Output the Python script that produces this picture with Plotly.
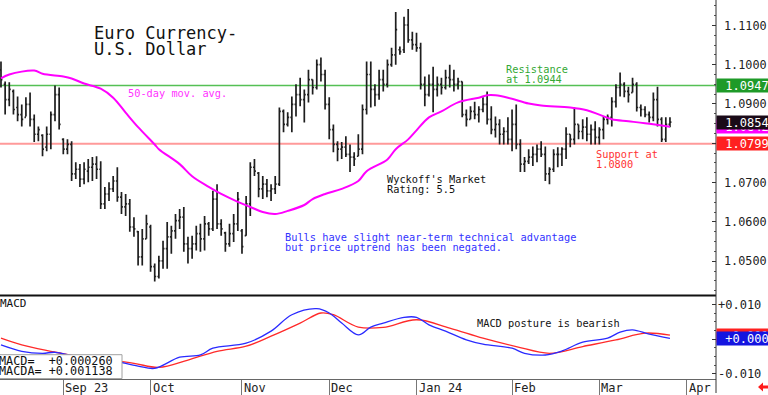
import pandas as pd
import plotly.graph_objects as go

# ---------------- data ----------------
days = [d for d in pd.bdate_range("2023-08-11", "2024-04-05") if d != pd.Timestamp("2023-11-23")]

high = [1.1008,1.0957,1.0955,1.0937,1.0919,1.0899,1.0917,1.0929,1.0873,1.0843,
        1.0823,1.0843,1.0881,1.0947,1.0942,1.0813,1.0810,1.0805,1.0752,1.0747,
        1.0752,1.0760,1.0765,1.0767,1.0754,1.0689,1.0701,1.0717,1.0739,1.0676,
        1.0671,1.0658,1.0612,1.0577,1.0582,1.0618,1.0593,1.0494,1.0514,1.0552,
        1.0600,1.0590,1.0620,1.0633,1.0638,1.0562,1.0565,1.0590,1.0595,1.0615,
        1.0600,1.0679,1.0696,1.0607,1.0575,1.0595,1.0620,1.0676,1.0582,1.0666,
        1.0752,1.0760,1.0727,1.0717,1.0709,1.0696,1.0717,1.0891,1.0886,1.0879,
        1.0919,1.0950,1.0967,1.0937,1.0987,1.0962,1.1013,1.1018,1.0987,1.0917,
        1.0848,1.0805,1.0803,1.0818,1.0797,1.0777,1.0823,1.0899,1.1008,1.1008,
        1.0950,1.0987,1.0987,1.1013,1.1043,1.1134,1.1046,1.1122,1.1142,1.1084,
        1.1081,1.1056,1.0970,1.0975,1.0995,1.0970,1.0967,1.0987,1.1000,1.0987,
        1.0967,1.0957,1.0886,1.0894,1.0906,1.0894,1.0917,1.0932,1.0894,1.0868,
        1.0861,1.0841,1.0866,1.0886,1.0899,1.0810,1.0765,1.0785,1.0792,1.0797,
        1.0805,1.0792,1.0739,1.0785,1.0790,1.0790,1.0841,1.0823,1.0891,1.0848,
        1.0861,1.0866,1.0848,1.0856,1.0841,1.0868,1.0873,1.0917,1.0950,1.0980,
        1.0955,1.0944,1.0967,1.0955,1.0899,1.0894,1.0881,1.0929,1.0944,1.0866,
        1.0866,1.0866]
low = [1.0942,1.0873,1.0894,1.0873,1.0856,1.0843,1.0868,1.0843,1.0803,1.0805,
       1.0767,1.0780,1.0785,1.0856,1.0835,1.0772,1.0772,1.0704,1.0709,1.0689,
       1.0696,1.0701,1.0704,1.0709,1.0633,1.0633,1.0653,1.0676,1.0651,1.0620,
       1.0615,1.0575,1.0562,1.0489,1.0489,1.0557,1.0473,1.0448,1.0456,1.0481,
       1.0481,1.0519,1.0557,1.0582,1.0524,1.0494,1.0506,1.0527,1.0524,1.0527,
       1.0565,1.0577,1.0582,1.0565,1.0524,1.0537,1.0549,1.0577,1.0519,1.0565,
       1.0615,1.0717,1.0663,1.0658,1.0663,1.0653,1.0671,1.0691,1.0828,1.0843,
       1.0828,1.0868,1.0894,1.0853,1.0904,1.0924,1.0937,1.0957,1.0886,1.0810,
       1.0777,1.0754,1.0760,1.0765,1.0727,1.0742,1.0767,1.0772,1.0873,1.0891,
       1.0894,1.0911,1.0932,1.0942,1.0995,1.1000,1.1025,1.1030,1.1056,1.1038,
       1.1033,1.0937,1.0894,1.0919,1.0879,1.0919,1.0924,1.0937,1.0942,1.0932,
       1.0937,1.0866,1.0843,1.0861,1.0861,1.0853,1.0879,1.0848,1.0823,1.0815,
       1.0797,1.0797,1.0797,1.0780,1.0785,1.0727,1.0727,1.0747,1.0742,1.0752,
       1.0765,1.0704,1.0696,1.0727,1.0739,1.0742,1.0760,1.0790,1.0797,1.0810,
       1.0810,1.0805,1.0797,1.0797,1.0797,1.0810,1.0848,1.0843,1.0891,1.0919,
       1.0917,1.0904,1.0929,1.0881,1.0868,1.0866,1.0853,1.0856,1.0843,1.0803,
       1.0803,1.0841]
open_ = [1.0987,1.0950,1.0911,1.0932,1.0891,1.0873,1.0866,1.0899,1.0861,1.0823,
         1.0820,1.0790,1.0823,1.0873,1.0924,1.0810,1.0785,1.0797,1.0722,1.0734,
         1.0709,1.0729,1.0739,1.0747,1.0734,1.0646,1.0671,1.0684,1.0704,1.0663,
         1.0638,1.0646,1.0587,1.0575,1.0511,1.0557,1.0587,1.0486,1.0461,1.0501,
         1.0532,1.0562,1.0577,1.0603,1.0612,1.0544,1.0532,1.0544,1.0570,1.0557,
         1.0595,1.0582,1.0658,1.0595,1.0572,1.0544,1.0570,1.0595,1.0577,1.0565,
         1.0646,1.0739,1.0724,1.0684,1.0696,1.0679,1.0684,1.0696,1.0881,1.0848,
         1.0866,1.0899,1.0924,1.0911,1.0924,1.0962,1.0942,1.1000,1.0975,1.0899,
         1.0835,1.0797,1.0785,1.0790,1.0772,1.0765,1.0767,1.0785,1.0886,1.0975,
         1.0937,1.0924,1.0962,1.0950,1.1000,1.1025,1.1038,1.1038,1.1101,1.1063,
         1.1051,1.1043,1.0950,1.0924,1.0950,1.0937,1.0950,1.0942,1.0967,1.0962,
         1.0950,1.0957,1.0873,1.0861,1.0881,1.0873,1.0886,1.0899,1.0861,1.0835,
         1.0848,1.0823,1.0830,1.0810,1.0848,1.0797,1.0747,1.0754,1.0765,1.0772,
         1.0785,1.0772,1.0722,1.0734,1.0772,1.0772,1.0785,1.0823,1.0810,1.0848,
         1.0830,1.0841,1.0823,1.0835,1.0815,1.0835,1.0861,1.0866,1.0906,1.0942,
         1.0950,1.0932,1.0929,1.0950,1.0891,1.0886,1.0873,1.0866,1.0911,1.0861,
         1.0810,1.0848]
close = [1.0962,1.0911,1.0937,1.0886,1.0873,1.0861,1.0899,1.0861,1.0823,1.0835,
         1.0785,1.0823,1.0873,1.0924,1.0848,1.0785,1.0797,1.0722,1.0734,1.0709,
         1.0734,1.0739,1.0747,1.0734,1.0646,1.0671,1.0684,1.0704,1.0663,1.0638,
         1.0646,1.0587,1.0582,1.0511,1.0557,1.0595,1.0486,1.0461,1.0501,1.0532,
         1.0562,1.0577,1.0603,1.0612,1.0544,1.0532,1.0544,1.0570,1.0557,1.0595,
         1.0582,1.0658,1.0595,1.0582,1.0544,1.0570,1.0595,1.0658,1.0537,1.0646,
         1.0739,1.0729,1.0684,1.0696,1.0679,1.0684,1.0696,1.0881,1.0848,1.0866,
         1.0899,1.0924,1.0911,1.0924,1.0962,1.0942,1.1000,1.0975,1.0899,1.0835,
         1.0797,1.0785,1.0790,1.0772,1.0765,1.0760,1.0785,1.0886,1.0975,1.0937,
         1.0924,1.0962,1.0950,1.1000,1.1025,1.1089,1.1033,1.1101,1.1063,1.1051,
         1.1043,1.0950,1.0924,1.0950,1.0937,1.0950,1.0942,1.0967,1.0962,1.0950,
         1.0957,1.0873,1.0861,1.0881,1.0873,1.0886,1.0899,1.0861,1.0835,1.0848,
         1.0823,1.0830,1.0810,1.0848,1.0797,1.0747,1.0754,1.0765,1.0772,1.0785,
         1.0772,1.0722,1.0734,1.0772,1.0772,1.0785,1.0823,1.0810,1.0848,1.0830,
         1.0841,1.0823,1.0835,1.0815,1.0835,1.0861,1.0866,1.0906,1.0942,1.0950,
         1.0932,1.0924,1.0950,1.0891,1.0886,1.0873,1.0866,1.0911,1.0861,1.0810,
         1.0848,1.0854]

# 50-day moving average
ma_idx = [0,2,8,10,15,17,20,24,27,30,33,37,38,43,46,50,53,57,60,63,66,69,73,75,78,
          82,86,88,93,95,98,100,103,106,110,115,117,119,122,127,130,137,141,144,147,
          151,155,161]
ma_val = [1.0965,1.0975,1.0985,1.0977,1.0970,1.0965,1.0952,1.0939,1.0916,1.0878,
          1.0841,1.0797,1.0785,1.0747,1.0716,1.0689,1.0671,1.0651,1.0638,1.0625,
          1.0620,1.0628,1.0643,1.0658,1.0671,1.0684,1.0704,1.0729,1.0759,1.0785,
          1.0810,1.0833,1.0866,1.0881,1.0904,1.0916,1.0922,1.0922,1.0916,1.0901,
          1.0896,1.0891,1.0884,1.0873,1.0861,1.0856,1.0851,1.0842]

# MACD (blue) and MACD average (red)
macd_idx = [0,5,10,13,18,26,33,37,43,48,51,59,65,70,76,79,82,86,89,92,97,100,103,
            107,112,116,123,126,131,135,140,146,149,152,156,161]
macd_val = [-0.00165,-0.00348,-0.00406,-0.00377,-0.00493,-0.0060,-0.00774,-0.0084,
            -0.0052,-0.00455,-0.0026,-0.00116,0.00232,0.00704,0.00878,0.00754,0.00464,
            0.00125,0.00348,0.00464,0.00629,0.00629,0.00414,0.00232,-0.0002,-0.00145,
            -0.0026,-0.00406,-0.00455,-0.0034,-0.00087,0.00029,0.00203,0.0027,0.00145,
            0.00026]
sig_idx = [0,5,12,17,24,32,38,45,52,59,65,72,77,80,86,92,100,108,116,124,132,140,
           148,155,161]
sig_val = [0.00029,-0.00165,-0.00348,-0.00464,-0.00571,-0.00696,-0.00812,-0.0060,
           -0.00348,-0.00203,0.00087,0.00464,0.00754,0.00704,0.00348,0.00339,0.0056,
           0.00319,0.00029,-0.00212,-0.00406,-0.00212,-0.0002,0.00174,0.00114]

resistance = 1.0947
support = 1.0799
last_close = 1.0854
last_ma = 1.0842
macd_last = 0.000260
macda_last = 0.001138

month_labels = ["Sep 23", "Oct", "Nov", "Dec", "Jan 24", "Feb", "Mar", "Apr"]
macd_tickvals = [-0.01, 0.0, 0.01]
macd_ticktext = ["-0.010", "+0.000", "+0.010"]

# ---------------- figure ----------------
W, H = 768, 395
PW = 716
FONT = "DejaVu Sans Mono"


def px(x):
    return x / PW


def py(y):
    return 1 - y / H


n = len(close)
x = list(range(n))

month_idx = []
seen = set()
for i, d in enumerate(days):
    key = (d.year, d.month)
    if key not in seen:
        seen.add(key)
        if i > 0:
            month_idx.append(i)

fig = go.Figure()
fig.add_trace(go.Ohlc(x=x, open=open_, high=high, low=low, close=close,
                      increasing_line_color="#1e1e1e", decreasing_line_color="#1e1e1e",
                      line_width=1.7, tickwidth=0.35, xaxis="x", yaxis="y",
                      hoverinfo="skip"))
fig.add_trace(go.Scatter(x=ma_idx, y=ma_val, mode="lines", line=dict(color="#ff00ff", width=2, shape="spline"),
                         xaxis="x", yaxis="y"))
fig.add_trace(go.Scatter(x=sig_idx, y=sig_val, mode="lines", line=dict(color="#ff2a2a", width=1.3, shape="spline"),
                         xaxis="x", yaxis="y2"))
fig.add_trace(go.Scatter(x=macd_idx, y=macd_val, mode="lines", line=dict(color="#2a2aff", width=1.3, shape="spline"),
                         xaxis="x", yaxis="y2"))

shapes = [
    dict(type="line", xref="paper", yref="y", x0=0, x1=1, y0=resistance, y1=resistance,
         line=dict(color="#55c055", width=1.3), layer="below"),
    dict(type="line", xref="paper", yref="y", x0=0, x1=1, y0=support, y1=support,
         line=dict(color="#ff9a9a", width=2), layer="below"),
    dict(type="line", xref="paper", yref="paper", x0=0, x1=1, y0=py(297), y1=py(297),
         line=dict(color="#111", width=2)),
    dict(type="line", xref="paper", yref="paper", x0=1, x1=1, y0=0, y1=1,
         line=dict(color="#333", width=1)),
    dict(type="rect", xref="paper", yref="paper", x0=px(-1), x1=px(122), y0=py(380.5), y1=py(356.5),
         fillcolor="white", line=dict(color="#a0a0a0", width=1)),
    dict(type="path", xref="paper", yref="paper",
         path=(f"M {px(758)},{py(389)} L {px(763)},{py(384.5)} L {px(763)},{py(387.5)} "
               f"L {px(768)},{py(387.5)} L {px(768)},{py(390.5)} L {px(763)},{py(390.5)} "
               f"L {px(763)},{py(393.5)} Z"),
         fillcolor="#ff1a1a", line=dict(width=0)),
]

ann = []


def txt(t, xp, yp, color="#111", size=10.3):
    ann.append(dict(text=t, xref="paper", yref="paper", x=px(xp), y=py(yp), xanchor="left",
                    yanchor="middle", showarrow=False, font=dict(family=FONT, size=size, color=color),
                    borderpad=0))


txt("Euro Currency-", 93, 33, size=17)
txt("U.S. Dollar", 93, 49.5, size=17)
txt("50-day mov. avg.", 127, 93, color="#ff33ff")
txt("Resistance", 505, 69.5, color="#33a833")
txt("at 1.0944", 505, 79.5, color="#33a833")
txt("Support at", 595, 155, color="#ff3333")
txt("1.0800", 595, 165, color="#ff3333")
txt("Wyckoff's Market", 386, 180)
txt("Rating: 5.5", 386, 190)
txt("Bulls have slight near-term technical advantage", 284, 238.5, color="#3333ff")
txt("but price uptrend has been negated.", 284, 248.5, color="#3333ff")
txt("MACD posture is bearish", 476, 325)
txt("MACD", -1, 305.5, size=11)
txt("MACD=  " + f"{macd_last:+.6f}", -2, 362.5, size=11.8)
txt("MACDA= " + f"{macda_last:+.6f}", -2, 372.5, size=11.8)

for mi, lab in zip(month_idx, month_labels):
    ann.append(dict(text=lab, xref="x", yref="paper", x=mi, y=py(389.5), xanchor="left", yanchor="middle",
                    xshift=0, showarrow=False, font=dict(family=FONT, size=12, color="#222")))


def box(val, yref, color, label):
    ann.append(dict(text=label, xref="paper", yref=yref, x=1, y=val, xanchor="left", yanchor="middle",
                    showarrow=False, bgcolor=color, width=60, height=13, borderpad=0, align="center",
                    font=dict(family=FONT, size=12, color="white")))


box(resistance, "y", "#1e9a28", f"{resistance:.4f}")
box(last_ma, "y", "#ff00ff", f"{last_ma:.4f}")
box(last_close, "y", "#1a0a18", f"{last_close:.4f}")
box(support, "y", "#ff2020", f"{support:.4f}")
box(macda_last, "y2", "#ff2020", f"{macda_last:+.3f}")
box(macd_last, "y2", "#1414e0", f"{macd_last:+.3f}")

fig.update_layout(
    width=W, height=H, margin=dict(l=0, r=W - PW, t=0, b=0, pad=0),
    paper_bgcolor="white", plot_bgcolor="white", showlegend=False,
    shapes=shapes, annotations=ann,
    xaxis=dict(domain=[0, 1], range=[-0.236, 172.08], anchor="y2", showgrid=False, zeroline=False,
               showline=True, linecolor="#666", linewidth=1, ticks="outside", ticklen=15,
               tickcolor="#777", tickwidth=1, tickvals=month_idx, showticklabels=False,
               rangeslider=dict(visible=False), fixedrange=True),
    yaxis=dict(domain=[py(297), 1], range=[1.04127, 1.11646], side="right", anchor="x",
               showgrid=False, zeroline=False, ticks="inside", ticklen=4, tickcolor="#333",
               tick0=1.0, dtick=0.01, tickformat=".4f", ticklabelstandoff=7,
               tickfont=dict(family=FONT, size=11.8, color="#222"),
               minor=dict(ticks="inside", ticklen=2, dtick=0.0025, tickcolor="#555")),
    yaxis2=dict(domain=[py(380.7), py(297)], range=[-0.0114, 0.01258], side="right", anchor="x",
                showgrid=False, zeroline=False, ticks="inside", ticklen=4, tickcolor="#333",
                tickmode="array", tickvals=macd_tickvals, ticktext=macd_ticktext,
                ticklabelstandoff=1,
                tickfont=dict(family=FONT, size=12, color="#222"),
                minor=dict(ticks="inside", ticklen=2, dtick=0.0025, tickcolor="#555")),
)

fig.write_html("out.html", config={"displayModeBar": False},
               post_script="document.body.style.margin='0';document.body.style.overflow='hidden';")
